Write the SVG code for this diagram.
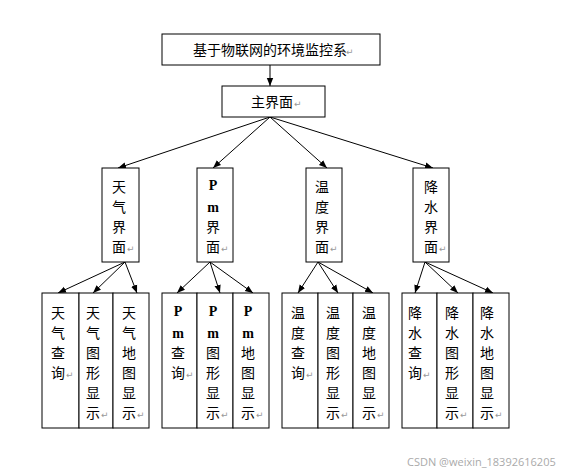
<svg xmlns="http://www.w3.org/2000/svg" width="566" height="476" viewBox="0 0 566 476">
<style>
.box{fill:#fff;stroke:#000;stroke-width:1}
.t{font-family:"Noto Sans CJK SC","Noto Sans CJK JP",sans-serif;font-size:14px;fill:#000}
.v{font-family:"Noto Sans CJK SC","Noto Sans CJK JP",sans-serif;font-size:14px;fill:#000;text-anchor:middle}
.p{font-family:"Liberation Serif",serif;font-weight:bold;font-size:14px}
.r{font-family:"DejaVu Sans",sans-serif;font-size:9px;fill:#999}
.wm{font-family:"Open Sans","Liberation Sans",sans-serif;font-size:11px;fill:#aaa}
.c{stroke:#000;stroke-width:1;fill:none;marker-end:url(#ah)}
</style>
<defs>
<marker id="ah" viewBox="0 0 10 10" refX="10" refY="5" markerWidth="8" markerHeight="8" markerUnits="userSpaceOnUse" orient="auto">
<path d="M0,1 L10,5 L0,9 Z" fill="#000"/>
</marker>
</defs>
<rect width="566" height="476" fill="#fff"/>
<g id="connectors">
<line class="c" x1="270" y1="65" x2="270" y2="86"/>
<line class="c" x1="270" y1="117" x2="118" y2="168"/>
<line class="c" x1="270" y1="117" x2="213" y2="168"/>
<line class="c" x1="270" y1="117" x2="327" y2="168"/>
<line class="c" x1="270" y1="117" x2="433" y2="168"/>
<line class="c" x1="125" y1="262" x2="58" y2="293"/>
<line class="c" x1="125" y1="262" x2="93" y2="293"/>
<line class="c" x1="125" y1="262" x2="137" y2="293"/>
<line class="c" x1="210" y1="262" x2="177" y2="293"/>
<line class="c" x1="210" y1="262" x2="220" y2="293"/>
<line class="c" x1="210" y1="262" x2="253" y2="293"/>
<line class="c" x1="318" y1="262" x2="298" y2="293"/>
<line class="c" x1="318" y1="262" x2="338" y2="293"/>
<line class="c" x1="318" y1="262" x2="373" y2="293"/>
<line class="c" x1="425" y1="262" x2="415" y2="293"/>
<line class="c" x1="425" y1="262" x2="458" y2="293"/>
<line class="c" x1="425" y1="262" x2="493" y2="293"/>
</g>
<g id="root">
<rect class="box" x="162" y="34" width="218" height="31"/>
<text class="t" x="193" y="55">基于物联网的环境监控系</text>
<text class="r" x="346" y="55">↵</text>
</g>
<g id="main">
<rect class="box" x="222" y="86" width="103" height="31"/>
<text class="t" x="251" y="107">主界面</text>
<text class="r" x="294" y="107">↵</text>
</g>
<g id="n-weather">
<rect class="box" x="102" y="168" width="37" height="94"/>
<text class="v"><tspan x="119" y="192">天</tspan><tspan x="119" y="212">气</tspan><tspan x="119" y="232">界</tspan><tspan x="119" y="252">面</tspan></text>
<text class="r" x="127" y="252">↵</text>
</g>
<g id="n-pm">
<rect class="box" x="197" y="168" width="36" height="94"/>
<text class="v"><tspan class="p" x="213" y="190">P</tspan><tspan class="p" x="213" y="212">m</tspan><tspan x="213" y="232">界</tspan><tspan x="213" y="252">面</tspan></text>
<text class="r" x="221" y="252">↵</text>
</g>
<g id="n-temp">
<rect class="box" x="306" y="168" width="36" height="94"/>
<text class="v"><tspan x="322" y="192">温</tspan><tspan x="322" y="212">度</tspan><tspan x="322" y="232">界</tspan><tspan x="322" y="252">面</tspan></text>
<text class="r" x="330" y="252">↵</text>
</g>
<g id="n-rain">
<rect class="box" x="413" y="168" width="36" height="94"/>
<text class="v"><tspan x="431" y="192">降</tspan><tspan x="431" y="212">水</tspan><tspan x="431" y="232">界</tspan><tspan x="431" y="252">面</tspan></text>
<text class="r" x="439" y="252">↵</text>
</g>
<g id="l-weather-query">
<rect class="box" x="42" y="293" width="37" height="135"/>
<text class="v"><tspan x="58" y="318">天</tspan><tspan x="58" y="338">气</tspan><tspan x="58" y="358">查</tspan><tspan x="58" y="378">询</tspan></text>
<text class="r" x="66" y="378">↵</text>
</g>
<g id="l-weather-chart">
<rect class="box" x="79" y="293" width="34" height="135"/>
<text class="v"><tspan x="93" y="318">天</tspan><tspan x="93" y="338">气</tspan><tspan x="93" y="358">图</tspan><tspan x="93" y="378">形</tspan><tspan x="93" y="398">显</tspan><tspan x="93" y="418">示</tspan></text>
<text class="r" x="101" y="418">↵</text>
</g>
<g id="l-weather-map">
<rect class="box" x="113" y="293" width="36" height="135"/>
<text class="v"><tspan x="129" y="318">天</tspan><tspan x="129" y="338">气</tspan><tspan x="129" y="358">地</tspan><tspan x="129" y="378">图</tspan><tspan x="129" y="398">显</tspan><tspan x="129" y="418">示</tspan></text>
<text class="r" x="137" y="418">↵</text>
</g>
<g id="l-pm-query">
<rect class="box" x="162" y="293" width="35" height="135"/>
<text class="v"><tspan class="p" x="178" y="316">P</tspan><tspan class="p" x="178" y="338">m</tspan><tspan x="178" y="358">查</tspan><tspan x="178" y="378">询</tspan></text>
<text class="r" x="186" y="378">↵</text>
</g>
<g id="l-pm-chart">
<rect class="box" x="197" y="293" width="36" height="135"/>
<text class="v"><tspan class="p" x="213" y="316">P</tspan><tspan class="p" x="213" y="338">m</tspan><tspan x="213" y="358">图</tspan><tspan x="213" y="378">形</tspan><tspan x="213" y="398">显</tspan><tspan x="213" y="418">示</tspan></text>
<text class="r" x="221" y="418">↵</text>
</g>
<g id="l-pm-map">
<rect class="box" x="233" y="293" width="36" height="135"/>
<text class="v"><tspan class="p" x="248" y="316">P</tspan><tspan class="p" x="248" y="338">m</tspan><tspan x="248" y="358">地</tspan><tspan x="248" y="378">图</tspan><tspan x="248" y="398">显</tspan><tspan x="248" y="418">示</tspan></text>
<text class="r" x="256" y="418">↵</text>
</g>
<g id="l-temp-query">
<rect class="box" x="282" y="293" width="36" height="135"/>
<text class="v"><tspan x="298" y="318">温</tspan><tspan x="298" y="338">度</tspan><tspan x="298" y="358">查</tspan><tspan x="298" y="378">询</tspan></text>
<text class="r" x="306" y="378">↵</text>
</g>
<g id="l-temp-chart">
<rect class="box" x="318" y="293" width="35" height="135"/>
<text class="v"><tspan x="333" y="318">温</tspan><tspan x="333" y="338">度</tspan><tspan x="333" y="358">图</tspan><tspan x="333" y="378">形</tspan><tspan x="333" y="398">显</tspan><tspan x="333" y="418">示</tspan></text>
<text class="r" x="341" y="418">↵</text>
</g>
<g id="l-temp-map">
<rect class="box" x="353" y="293" width="36" height="135"/>
<text class="v"><tspan x="369" y="318">温</tspan><tspan x="369" y="338">度</tspan><tspan x="369" y="358">地</tspan><tspan x="369" y="378">图</tspan><tspan x="369" y="398">显</tspan><tspan x="369" y="418">示</tspan></text>
<text class="r" x="377" y="418">↵</text>
</g>
<g id="l-rain-query">
<rect class="box" x="402" y="293" width="35" height="135"/>
<text class="v"><tspan x="415" y="318">降</tspan><tspan x="415" y="338">水</tspan><tspan x="415" y="358">查</tspan><tspan x="415" y="378">询</tspan></text>
<text class="r" x="423" y="378">↵</text>
</g>
<g id="l-rain-chart">
<rect class="box" x="437" y="293" width="36" height="135"/>
<text class="v"><tspan x="452" y="318">降</tspan><tspan x="452" y="338">水</tspan><tspan x="452" y="358">图</tspan><tspan x="452" y="378">形</tspan><tspan x="452" y="398">显</tspan><tspan x="452" y="418">示</tspan></text>
<text class="r" x="460" y="418">↵</text>
</g>
<g id="l-rain-map">
<rect class="box" x="473" y="293" width="36" height="135"/>
<text class="v"><tspan x="487" y="318">降</tspan><tspan x="487" y="338">水</tspan><tspan x="487" y="358">地</tspan><tspan x="487" y="378">图</tspan><tspan x="487" y="398">显</tspan><tspan x="487" y="418">示</tspan></text>
<text class="r" x="495" y="418">↵</text>
</g>
<text class="wm" x="407" y="466">CSDN @weixin_18392616205</text>
</svg>
